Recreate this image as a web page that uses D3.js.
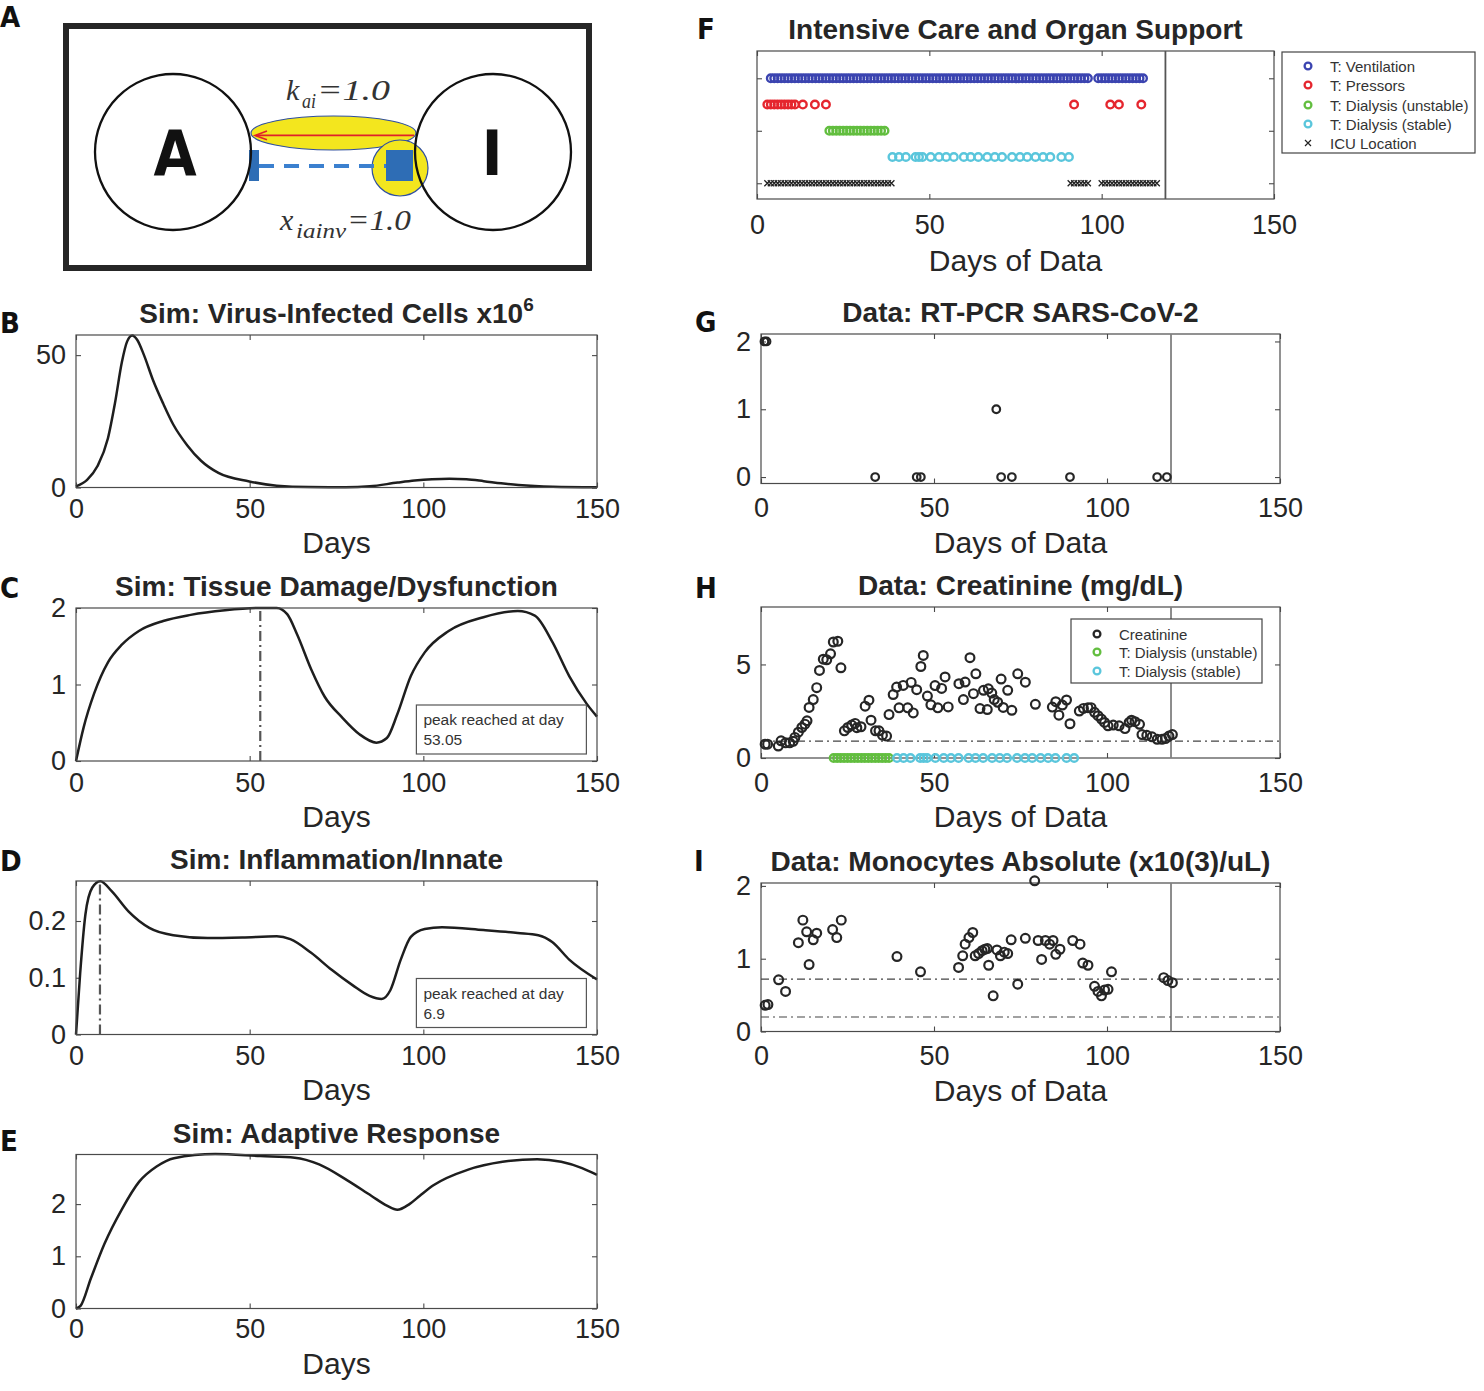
<!DOCTYPE html>
<html>
<head>
<meta charset="utf-8">
<script src="https://cdn.jsdelivr.net/npm/d3@7"></script>
<style>
  body { margin: 0; background: #fff; }
  svg { display: block; }
</style>
</head>
<body>
<svg id="fig" width="1484" height="1391"></svg>
<script>
// ---------------- data ----------------
const xTicks = [0, 50, 100, 150];

// simulated curves: [day, value]
const virusCells = [[0,0.4],[3.2,2.9],[6.2,8.1],[9.2,18.6],[11.2,31.7],[13.2,47.3],[14.7,55.1],[16.2,57.4],[17.6,55.8],[19.6,49.9],[22.1,40.8],[25.1,31.7],[28,23.8],[32,16],[36,10.1],[41,5.5],[49.9,2.3],[57.8,0.7],[67,0.15],[77.6,0.1],[84.6,0.45],[92.6,1.85],[97.5,2.6],[102.5,3.1],[107.5,3.3],[112.4,3.1],[117.4,2.4],[122.4,1.6],[127.4,0.95],[137.3,0.3],[150,0.1]];
const tissueDamage = [[0,0],[2.2,0.44],[5.2,0.88],[9.2,1.29],[13.2,1.52],[18.1,1.7],[25.1,1.83],[33,1.91],[42.9,1.97],[52.8,2.0],[57.8,2.0],[60.8,1.92],[63.7,1.65],[67.7,1.2],[71.6,0.84],[76.6,0.57],[81.6,0.35],[86.5,0.24],[89.5,0.3],[92.5,0.61],[96.4,1.11],[100.4,1.42],[107.3,1.7],[117.3,1.88],[127.2,1.96],[132.1,1.9],[137.1,1.56],[142,1.11],[147,0.75],[150,0.58]];
const inflammation = [[0,0],[1.2,0.108],[2.7,0.211],[4.7,0.259],[7,0.27],[10.2,0.253],[15.1,0.217],[21.1,0.188],[28,0.175],[37.9,0.17],[47.9,0.171],[57.8,0.173],[61.7,0.168],[67.7,0.144],[73.6,0.114],[79.6,0.087],[84.5,0.068],[88,0.0625],[90.5,0.078],[93.5,0.132],[96.4,0.172],[100.4,0.186],[105.4,0.189],[117.3,0.184],[127.2,0.179],[133.1,0.175],[137.1,0.163],[142,0.132],[150,0.097]];
const adaptive = [[0,0],[1.3,0.05],[4.3,0.58],[8.2,1.24],[13.2,1.9],[18.2,2.43],[23.2,2.72],[28.2,2.88],[40.1,2.96],[53.1,2.92],[63,2.89],[70,2.76],[78,2.46],[85,2.16],[89.5,1.97],[92.5,1.89],[96,2.0],[99,2.16],[102.9,2.36],[112.9,2.66],[122.8,2.81],[132.8,2.86],[139.7,2.81],[145.7,2.69],[150,2.56]];
const tissuePeakDay = 53.05;
const inflammationPeakDay = 6.9;

// ICU / organ support
const supportRows = ["T: Ventilation", "T: Pressors", "T: Dialysis (unstable)", "T: Dialysis (stable)", "ICU Location"];
const ventilationSpans = [[4, 96], [99, 112]];
const pressorDays = [3, 4, 5, 6, 7, 8, 9, 10, 11, 13.3, 16.8, 20, 92, 102.5, 105, 111.5];
const dialysisUnstableSpans = [[21, 37]];
const dialysisStableDays = [39.3, 41.2, 43.2, 46, 47, 48, 50.4, 52.8, 54.9, 57.1, 60, 62, 64.2, 66.8, 69, 71.1, 74, 76.3, 78.4, 80.8, 83, 85.1, 88.3, 90.5];
const icuSpans = [[3, 39], [91, 96], [100, 116]];
const lastDataDay = 118.5;

// lab data: [day, value]
const pcr = [[1,2],[1.6,2],[33,0],[45,0],[46.2,0],[68,1],[69.4,0],[72.5,0],[89.3,0],[114.5,0],[117.3,0]];
const creatinine = [[1.2,0.74],[1.9,0.74],[5,0.64],[5.8,0.92],[7.1,0.81],[8.3,0.81],[9.3,0.89],[9.8,1.1],[10.8,1.38],[11.8,1.63],[12.7,1.81],[13.3,1.99],[13.9,2.7],[15.1,3.12],[16.1,3.76],[16.9,4.68],[18,5.28],[19,5.25],[20.1,5.57],[20.9,6.2],[22.2,6.24],[23.1,4.82],[24.1,1.45],[25.1,1.63],[26.2,1.76],[27.2,1.85],[27.7,1.62],[28.9,1.67],[30.1,2.77],[31.2,3.09],[31.8,2.02],[33.1,1.45],[34.1,1.45],[35.1,1.22],[36.3,1.17],[37,2.32],[38.2,3.39],[39.2,3.79],[39.9,2.68],[41.1,3.88],[42.4,2.68],[43.4,4.04],[44,2.41],[45,3.65],[46.2,4.89],[46.9,5.48],[48.1,3.31],[49.1,2.84],[50.3,3.87],[51.1,2.68],[52.2,3.72],[53.2,4.33],[54.1,2.73],[57.2,3.97],[58.5,3.12],[59,4.06],[60.4,5.36],[61.4,3.44],[62.1,4.5],[63.3,2.64],[64.3,3.62],[65.4,2.59],[65.7,3.7],[66.7,3.47],[67.4,3.12],[68.4,2.98],[69.4,4.22],[70,2.7],[71.3,3.62],[72.5,2.55],[74.2,4.5],[76.4,4.05],[79.3,2.87],[84.2,2.72],[85.2,3.01],[86.1,2.29],[87.1,2.83],[88.3,3.1],[89.3,1.83],[92,2.51],[93.2,2.65],[94.5,2.69],[95.4,2.69],[96.4,2.44],[97.4,2.26],[98.4,2.08],[99.3,1.9],[100.3,1.72],[101.8,1.76],[103.5,1.72],[105.2,1.57],[106.4,1.9],[107.1,2.02],[108.1,1.94],[109.4,1.8],[110.1,1.25],[111.5,1.21],[113,1.13],[114.5,1.0],[115.9,1.0],[116.9,1.04],[117.9,1.17],[118.9,1.25]];
const creatinineRef = 0.9;
const monocytes = [[1.2,0.36],[2,0.37],[5.1,0.71],[7.1,0.55],[10.8,1.22],[12.1,1.53],[13.2,1.37],[13.9,0.92],[15.1,1.26],[16.1,1.35],[20.7,1.4],[21.9,1.29],[23.2,1.53],[39.3,1.03],[46.1,0.82],[57.1,0.88],[58.3,1.04],[59,1.2],[60.1,1.29],[61.2,1.36],[61.9,1.04],[62.9,1.07],[63.9,1.11],[64.7,1.13],[65.4,1.14],[65.8,0.91],[67.1,0.49],[68.2,1.12],[69.2,1.04],[70.3,1.09],[71.3,1.07],[72.3,1.26],[74.2,0.65],[76.4,1.28],[79.1,2.07],[80.1,1.25],[81.1,0.99],[82.2,1.25],[83.4,1.2],[84.4,1.25],[85.2,1.06],[86.4,1.13],[90.1,1.25],[92.2,1.2],[93,0.94],[94.5,0.91],[96.4,0.62],[97.4,0.55],[98.4,0.49],[99.3,0.57],[100.3,0.58],[101.3,0.82],[116.4,0.74],[117.6,0.7],[118.9,0.67]];
const monocyteRef = [0.72, 0.2];

// ---------------- drawing ----------------
const svg = d3.select("#fig");
const sans = '"Liberation Sans", Helvetica, Arial, sans-serif';
const narrow = '"Liberation Sans Narrow", "DejaVu Sans Condensed", "Liberation Sans", sans-serif';
const axisColor = "#4a4a4a";
const colors = { vent: "#3b44b0", press: "#e5262e", unstable: "#62be3f", stable: "#5ac6dc" };

function daysIn(spans) {
  // one entry per recorded day inside each span
  return spans.flatMap(s => d3.range(s[0], s[1] + 1));
}

function panel(p) {
  const x = d3.scaleLinear().domain([0, 150]).range([p.left, p.right]);
  const y = d3.scaleLinear().domain(p.yDomain).range([p.bottom, p.top]);
  const g = svg.append("g");

  g.append("g").attr("transform", `translate(0,${p.bottom})`)
    .call(d3.axisBottom(x).tickValues(xTicks).tickSize(-5).tickSizeOuter(0).tickPadding(p.tickPad));
  g.append("g").attr("transform", `translate(0,${p.top})`)
    .call(d3.axisTop(x).tickValues(xTicks).tickSize(-5).tickSizeOuter(0).tickFormat(""));
  const left = g.append("g").attr("transform", `translate(${p.left},0)`)
    .call(d3.axisLeft(y).tickValues(p.yTicks).tickSize(-5).tickSizeOuter(0).tickPadding(10).tickFormat(d3.format("")));
  if (p.noYLabels) left.selectAll("text").remove();
  g.append("g").attr("transform", `translate(${p.right},0)`)
    .call(d3.axisRight(y).tickValues(p.yTicks).tickSize(-5).tickSizeOuter(0).tickFormat(""));

  g.selectAll(".domain").remove();
  g.selectAll(".tick line").attr("stroke", axisColor).attr("stroke-width", 1.1);
  g.selectAll(".tick text").attr("font-size", 27).attr("fill", "#262626").attr("font-family", sans);

  g.append("rect")
    .attr("x", p.left).attr("y", p.top)
    .attr("width", p.right - p.left).attr("height", p.bottom - p.top)
    .attr("fill", "none").attr("stroke", axisColor).attr("stroke-width", 1.2);

  const title = g.append("text")
    .attr("x", (p.left + p.right) / 2).attr("y", p.top - 12)
    .attr("text-anchor", "middle").attr("font-family", sans)
    .attr("font-weight", "bold").attr("font-size", 28).attr("fill", "#262626")
    .text(p.title);
  if (p.sup) {
    title.append("tspan").attr("dy", -12).attr("font-size", 19).text(p.sup);
  }

  g.append("text")
    .attr("x", (p.left + p.right) / 2).attr("y", p.bottom + p.labelOff)
    .attr("text-anchor", "middle").attr("font-family", sans)
    .attr("font-size", 30).attr("fill", "#262626")
    .text(p.xLabel);

  return { g, x, y, p };
}

function simLine(pl, data) {
  const line = d3.line().x(d => pl.x(d[0])).y(d => pl.y(d[1])).curve(d3.curveMonotoneX);
  pl.g.insert("path", "rect").datum(data)
    .attr("d", line).attr("fill", "none").attr("stroke", "#1e1e1e").attr("stroke-width", 2.5);
}

function peakMarker(pl, day, label) {
  pl.g.append("line")
    .attr("x1", pl.x(day)).attr("x2", pl.x(day))
    .attr("y1", pl.p.bottom).attr("y2", pl.p.top)
    .attr("stroke", "#555").attr("stroke-width", 2.2)
    .attr("stroke-dasharray", "10,4,2,4");
  const bx = pl.x(98), by = pl.p.bottom - 56;
  pl.g.append("rect").attr("x", bx).attr("y", by).attr("width", 170).attr("height", 49)
    .attr("fill", "#fff").attr("stroke", "#555").attr("stroke-width", 1.2);
  pl.g.append("text").attr("x", bx + 7).attr("y", by + 20)
    .attr("font-family", sans).attr("font-size", 15.5).attr("fill", "#333")
    .text("peak reached at day");
  pl.g.append("text").attr("x", bx + 7).attr("y", by + 40)
    .attr("font-family", sans).attr("font-size", 15.5).attr("fill", "#333")
    .text(label);
}

function circles(pl, data, color, r, sw) {
  pl.g.append("g").selectAll("circle").data(data).join("circle")
    .attr("cx", d => pl.x(d[0])).attr("cy", d => pl.y(d[1]))
    .attr("r", r).attr("fill", "none").attr("stroke", color).attr("stroke-width", sw || 2.2);
}

function crosses(pl, data, size) {
  pl.g.append("g").selectAll("path").data(data).join("path")
    .attr("d", d => {
      const cx = pl.x(d[0]), cy = pl.y(d[1]);
      return `M${cx - size},${cy - size}L${cx + size},${cy + size}M${cx - size},${cy + size}L${cx + size},${cy - size}`;
    })
    .attr("stroke", "#222").attr("stroke-width", 1.3);
}

function vLine(pl, day, color) {
  pl.g.append("line").attr("x1", pl.x(day)).attr("x2", pl.x(day))
    .attr("y1", pl.p.top).attr("y2", pl.p.bottom)
    .attr("stroke", color).attr("stroke-width", 1.8);
}

function hRef(pl, v) {
  pl.g.append("line").attr("x1", pl.p.left).attr("x2", pl.p.right)
    .attr("y1", pl.y(v)).attr("y2", pl.y(v))
    .attr("stroke", "#444").attr("stroke-width", 1.1)
    .attr("stroke-dasharray", "8,4,2,4");
}

function legend(x0, y0, w, h, rowY, entries) {
  const g = svg.append("g");
  g.append("rect").attr("x", x0).attr("y", y0).attr("width", w).attr("height", h)
    .attr("fill", "#fff").attr("stroke", "#444").attr("stroke-width", 1.2);
  entries.forEach((e, i) => {
    const cy = y0 + rowY[i];
    if (e.cross) {
      g.append("path").attr("d", `M${x0 + 23},${cy - 3}l6,6m0,-6l-6,6`).attr("stroke", "#222").attr("stroke-width", 1.2);
    } else {
      g.append("circle").attr("cx", x0 + 26).attr("cy", cy).attr("r", 3.4)
        .attr("fill", "none").attr("stroke", e.color).attr("stroke-width", 2.3);
    }
    g.append("text").attr("x", x0 + 48).attr("y", cy + 5.5)
      .attr("font-family", sans).attr("font-size", 15).attr("fill", "#333").text(e.label);
  });
}

// ---------- left column: simulations ----------
const pB = panel({ left: 76, right: 597, top: 335, bottom: 487.5, yDomain: [0, 57.6], yTicks: [0, 50],
  tickPad: 11, labelOff: 65, title: "Sim: Virus-Infected Cells x10", sup: "6", xLabel: "Days" });
simLine(pB, virusCells);

const pC = panel({ left: 76, right: 597, top: 608, bottom: 761, yDomain: [0, 2], yTicks: [0, 1, 2],
  tickPad: 11.5, labelOff: 66, title: "Sim: Tissue Damage/Dysfunction", xLabel: "Days" });
simLine(pC, tissueDamage);
peakMarker(pC, tissuePeakDay, "53.05");

const pD = panel({ left: 76, right: 597, top: 881, bottom: 1034.5, yDomain: [0, 0.2705], yTicks: [0, 0.1, 0.2],
  tickPad: 11, labelOff: 65, title: "Sim: Inflammation/Innate", xLabel: "Days" });
simLine(pD, inflammation);
peakMarker(pD, inflammationPeakDay, "6.9");

const pE = panel({ left: 76, right: 597, top: 1154.5, bottom: 1308.5, yDomain: [0, 2.95], yTicks: [0, 1, 2],
  tickPad: 10.5, labelOff: 65, title: "Sim: Adaptive Response", xLabel: "Days" });
simLine(pE, adaptive);

// ---------- right column: patient data ----------
const pF = panel({ left: 757, right: 1274, top: 51, bottom: 199, yDomain: [0.4, 6.04], yTicks: [1, 3, 5],
  noYLabels: true, tickPad: 15.8, labelOff: 72, title: "Intensive Care and Organ Support", xLabel: "Days of Data" });
const rowLevel = d => 5 - supportRows.indexOf(d);
circles(pF, daysIn(ventilationSpans).map(d => [d, rowLevel("T: Ventilation")]), colors.vent, 3.8, 2.4);
circles(pF, pressorDays.map(d => [d, rowLevel("T: Pressors")]), colors.press, 3.8, 2.4);
circles(pF, daysIn(dialysisUnstableSpans).map(d => [d, rowLevel("T: Dialysis (unstable)")]), colors.unstable, 3.8, 2.4);
circles(pF, dialysisStableDays.map(d => [d, rowLevel("T: Dialysis (stable)")]), colors.stable, 3.8, 2.4);
crosses(pF, daysIn(icuSpans).map(d => [d, rowLevel("ICU Location")]), 3);
vLine(pF, lastDataDay, "#555");
legend(1282, 52, 193, 101, [14, 33, 53, 72, 91], [
  { label: supportRows[0], color: colors.vent },
  { label: supportRows[1], color: colors.press },
  { label: supportRows[2], color: colors.unstable },
  { label: supportRows[3], color: colors.stable },
  { label: supportRows[4], cross: true }
]);

const pG = panel({ left: 761, right: 1280, top: 334, bottom: 483.5, yDomain: [-0.095, 2.11], yTicks: [0, 1, 2],
  tickPad: 14, labelOff: 69, title: "Data: RT-PCR SARS-CoV-2", xLabel: "Days of Data" });
vLine(pG, lastDataDay, "#808080");
circles(pG, pcr, "#262626", 3.8, 2.2);

const pH = panel({ left: 761, right: 1280, top: 607, bottom: 758, yDomain: [0, 8.07], yTicks: [0, 5],
  tickPad: 14.5, labelOff: 69, title: "Data: Creatinine (mg/dL)", xLabel: "Days of Data" });
vLine(pH, lastDataDay, "#808080");
hRef(pH, creatinineRef);
circles(pH, daysIn(dialysisUnstableSpans).map(d => [d, 0]), colors.unstable, 3.8, 2.4);
circles(pH, dialysisStableDays.map(d => [d, 0]), colors.stable, 3.8, 2.4);
circles(pH, creatinine, "#262626", 4.4, 2.2);
legend(1071, 619, 191, 64, [15, 33, 52], [
  { label: "Creatinine", color: "#262626" },
  { label: "T: Dialysis (unstable)", color: colors.unstable },
  { label: "T: Dialysis (stable)", color: colors.stable }
]);

const pI = panel({ left: 761, right: 1280, top: 883, bottom: 1031.5, yDomain: [0, 2.04], yTicks: [0, 1, 2],
  tickPad: 14, labelOff: 69, title: "Data: Monocytes Absolute (x10(3)/uL)", xLabel: "Days of Data" });
vLine(pI, lastDataDay, "#808080");
monocyteRef.forEach(v => hRef(pI, v));
circles(pI, monocytes, "#262626", 4.4, 2.2);

// ---------- panel A: schematic ----------
const ga = svg.append("g");
ga.append("rect").attr("x", 66).attr("y", 26).attr("width", 523).attr("height", 242)
  .attr("fill", "none").attr("stroke", "#262626").attr("stroke-width", 6);
ga.append("ellipse").attr("cx", 333.5).attr("cy", 133).attr("rx", 82.5).attr("ry", 17)
  .attr("fill", "#f3e61e").attr("stroke", "#2f4f9f").attr("stroke-width", 1.2);
ga.append("circle").attr("cx", 400).attr("cy", 168).attr("r", 28)
  .attr("fill", "#f3e61e").attr("stroke", "#2f4f9f").attr("stroke-width", 1.2);
ga.append("line").attr("x1", 259).attr("x2", 386).attr("y1", 166).attr("y2", 166)
  .attr("stroke", "#3b80cf").attr("stroke-width", 4).attr("stroke-dasharray", "15,10");
ga.append("rect").attr("x", 249).attr("y", 150).attr("width", 10).attr("height", 31).attr("fill", "#2e6db5");
ga.append("rect").attr("x", 386).attr("y", 150).attr("width", 27).attr("height", 31).attr("fill", "#2e6db5");
ga.append("line").attr("x1", 414).attr("x2", 256).attr("y1", 135.4).attr("y2", 135.4)
  .attr("stroke", "#e0202a").attr("stroke-width", 1.6);
ga.append("path").attr("d", "M267,131 L255,135.4 L267,139.8")
  .attr("fill", "none").attr("stroke", "#e0202a").attr("stroke-width", 1.6);
[173, 493].forEach(cx => {
  ga.append("circle").attr("cx", cx).attr("cy", 152).attr("r", 78)
    .attr("fill", "none").attr("stroke", "#111").attr("stroke-width", 2.3);
});
ga.append("text").attr("x", 175).attr("y", 175).attr("text-anchor", "middle")
  .attr("font-family", narrow).attr("font-weight", "bold").attr("font-size", 62).attr("fill", "#111").text("A");
ga.append("text").attr("x", 492).attr("y", 175).attr("text-anchor", "middle")
  .attr("font-family", narrow).attr("font-weight", "bold").attr("font-size", 62).attr("fill", "#111").text("I");

const serif = '"Liberation Serif", "Times New Roman", serif';
function mathLabel(x, yb, main, sub, subW, rest, restW) {
  const t = ga.append("g").attr("font-family", serif).attr("font-style", "italic").attr("fill", "#333");
  t.append("text").attr("x", x).attr("y", yb).attr("font-size", 30).text(main);
  t.append("text").attr("x", x + 16).attr("y", yb + 8).attr("font-size", 20)
    .attr("textLength", subW).attr("lengthAdjust", "spacingAndGlyphs").text(sub);
  t.append("text").attr("x", x + 17 + subW).attr("y", yb).attr("font-size", 30)
    .attr("textLength", restW).attr("lengthAdjust", "spacingAndGlyphs").text(rest);
}
mathLabel(286, 100, "k", "ai", 14, "=1.0", 73);
mathLabel(280, 230, "x", "iainv", 50, "=1.0", 64);

// ---------- panel letters ----------
[["A", 0, 27], ["B", 0, 333], ["C", 0, 598], ["D", 0, 871], ["E", 0, 1151],
 ["F", 697, 39], ["G", 695, 332], ["H", 695, 598], ["I", 694, 871]].forEach(([t, x, y]) => {
  svg.append("text").attr("x", x).attr("y", y)
    .attr("font-family", narrow).attr("font-weight", "bold").attr("font-size", 29)
    .attr("fill", "#111").text(t);
});
</script>
</body>
</html>
